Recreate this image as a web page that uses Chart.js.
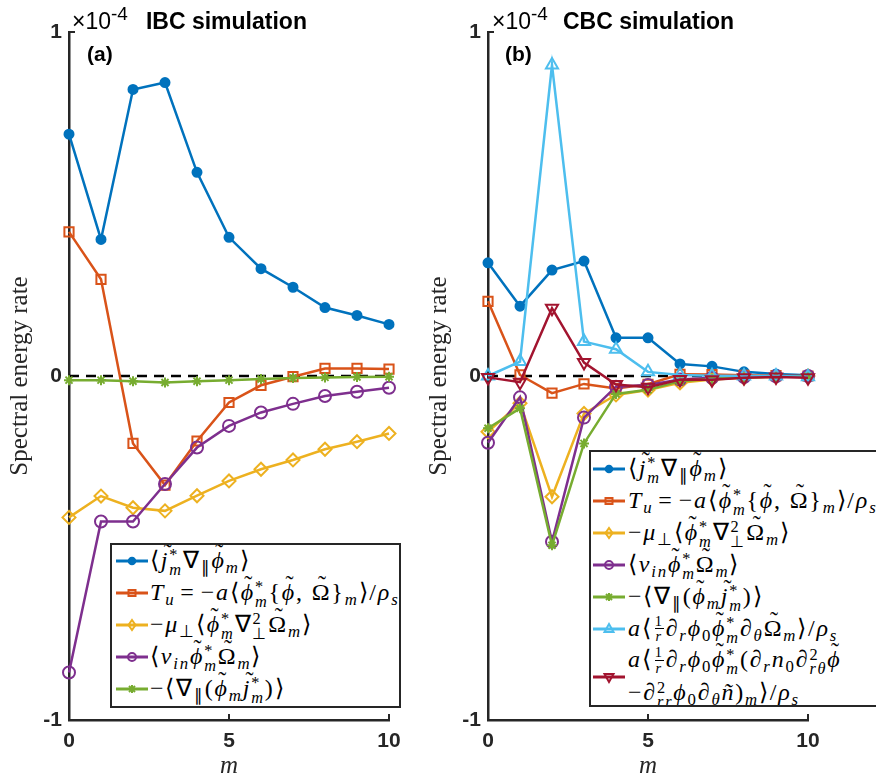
<!DOCTYPE html>
<html><head><meta charset="utf-8">
<script src="https://cdn.jsdelivr.net/npm/chart.js@4"></script>
<style>
html,body{margin:0;padding:0;background:#fff;width:876px;height:780px;overflow:hidden;position:relative}
canvas{position:absolute;top:0}
.hdr{position:absolute;font-family:"Liberation Sans",Arial,sans-serif;color:#000;white-space:nowrap;line-height:1}
.hdr .x{font-size:23px;font-weight:normal}
.hdr .x sup{font-size:19px;vertical-align:9px}
.hdr .t{font-size:23px;font-weight:bold;margin-left:18px}
.pl{position:absolute;font-family:"Liberation Sans",Arial,sans-serif;font-weight:bold;font-size:21px;line-height:1;color:#000}
.lg{position:absolute;background:#fff;border:2.5px solid #262626;box-sizing:border-box;font-family:"Liberation Serif",serif;font-size:24px;color:#000;overflow:hidden}
.row{display:flex;align-items:center;height:32px;white-space:nowrap}
.row svg{flex:none}
.row .txt{line-height:30px;letter-spacing:1.8px}
sub{font-size:0.7em;vertical-align:-0.3em;line-height:0}
.ss{display:inline-block;vertical-align:-0.45em;line-height:0.9;font-size:0.68em;text-align:left}
.ss>span{display:block}
.fr{display:inline-block;vertical-align:-0.4em;line-height:1;font-size:0.6em;text-align:center;margin:0 2px}
.fr>span{display:block}
.fr>span:first-child{border-bottom:1px solid #000}
.tl{position:relative;display:inline-block;line-height:1}
.tl::after{content:"\02DC";position:absolute;left:0.12em;right:0;text-align:center;top:-0.32em;font-style:normal}
.op{margin:0 5px}
</style></head><body>
<canvas id="ca" width="420" height="780" style="left:0"></canvas>
<canvas id="cb" width="456" height="780" style="left:420px"></canvas>
<div class="hdr" style="left:72px;top:4px"><span class="x">×10<sup>-4</sup></span><span class="t">IBC simulation</span></div>
<div class="hdr" style="left:492px;top:4px"><span class="x">×10<sup>-4</sup></span><span class="t" style="margin-left:15px">CBC simulation</span></div>
<div class="pl" style="left:87px;top:43px">(a)</div>
<div class="pl" style="left:505px;top:43px">(b)</div>
<div class="lg" id="lga" style="left:110px;top:543px;width:291px;height:165px;padding-top:0"></div>
<div class="lg" id="lgb" style="left:589px;top:450px;width:300px;height:257px;padding-top:1px"></div>
<script>
// ---------- data (values in units of 1e-4) ----------
const mVals = [0,1,2,3,4,5,6,7,8,9,10];
const xTicks = [0,5,10];
const yTicks = [-1,0,1];

// IBC simulation (a)
const jPhiA = [0.703,0.397,0.833,0.853,0.592,0.403,0.312,0.258,0.199,0.176,0.150];
const TuA   = [0.419,0.281,-0.196,-0.317,-0.189,-0.077,-0.027,-0.002,0.022,0.022,0.020];
const muA   = [-0.411,-0.349,-0.383,-0.392,-0.348,-0.305,-0.271,-0.244,-0.213,-0.191,-0.167];
const nuA   = [-0.862,-0.423,-0.423,-0.314,-0.208,-0.145,-0.106,-0.081,-0.058,-0.046,-0.034];
const divA  = [-0.012,-0.012,-0.015,-0.019,-0.015,-0.012,-0.009,-0.006,-0.004,-0.003,-0.002];

// CBC simulation (b)
const jPhiB  = [0.329,0.203,0.308,0.334,0.111,0.111,0.035,0.028,0.012,0.006,0.002];
const TuB    = [0.217,0.003,-0.050,-0.023,-0.036,-0.024,0.005,0.004,0.002,0.001,0.000];
const muB    = [-0.162,-0.079,-0.351,-0.109,-0.055,-0.041,-0.020,-0.010,-0.005,-0.002,0.000];
const nuB    = [-0.194,-0.062,-0.482,-0.121,-0.031,-0.026,-0.010,-0.005,-0.003,-0.001,0.000];
const divB   = [-0.152,-0.094,-0.492,-0.196,-0.052,-0.040,-0.015,-0.008,-0.004,-0.002,0.000];
const advB   = [0.000,0.042,0.904,0.100,0.078,0.012,0.003,0.001,0.000,0.000,-0.002];
const shearB = [-0.004,-0.018,0.197,0.039,-0.025,-0.033,-0.010,-0.011,-0.005,-0.003,-0.005];

// ---------- labels ----------
const ss = (a,b)=>`<span class="ss"><span>${a}</span><span>${b}</span></span>`;
const fr = (a,b)=>`<span class="fr"><span>${a}</span><span>${b}</span></span>`;
const tl = (c,it=true)=>`<span class="tl">${it?'<i>'+c+'</i>':c}</span>`;
const M = '<i>m</i>';
const PH = tl('ϕ'), J = tl('j'), OM = tl('Ω',false);
const labels = [
  `⟨${J}${ss('*',M)}∇<sub>∥</sub>${PH}<sub>${M}</sub>⟩`,
  `<i>T<sub>u</sub></i><span class="op">=</span>−<i>a</i>⟨${PH}${ss('*',M)}{${PH}, ${OM}}<sub>${M}</sub>⟩/<i>ρ<sub>s</sub></i>`,
  `−<i>μ</i><sub>⊥</sub>⟨${PH}${ss('*',M)}∇${ss('2','⊥')}${OM}<sub>${M}</sub>⟩`,
  `⟨<i>ν<sub>in</sub></i>${PH}${ss('*',M)}${OM}<sub>${M}</sub>⟩`,
  `−⟨∇<sub>∥</sub>(${PH}<sub>${M}</sub>${J}${ss('*',M)})⟩`,
  `<i>a</i>⟨${fr('1','<i>r</i>')}∂<sub><i>r</i></sub><i>ϕ</i><sub>0</sub>${PH}${ss('*',M)}∂<sub><i>θ</i></sub>${OM}<sub>${M}</sub>⟩/<i>ρ<sub>s</sub></i>`,
  `<i>a</i>⟨${fr('1','<i>r</i>')}∂<sub><i>r</i></sub><i>ϕ</i><sub>0</sub>${PH}${ss('*',M)}(∂<sub><i>r</i></sub><i>n</i><sub>0</sub>∂${ss('2','<i>rθ</i>')}${PH}<br>−∂${ss('2','<i>rr</i>')}<i>ϕ</i><sub>0</sub>∂<sub><i>θ</i></sub><i>ñ</i>)<sub>${M}</sub>⟩/<i>ρ<sub>s</sub></i>`
];
const colors = ['#0072BD','#D95319','#EDB120','#7E2F8E','#77AC30','#4DBEEE','#A2142F'];
const pstyles = ['circle','rect','rectRot','circle','star','triangle','triangle'];
const prot = [0,0,0,0,0,0,180];
const prad = [4.5,6.5,6.5,6,5,7,7];
const pfill = [true,false,false,false,false,false,false];

function mkDs(vals,i){
  return {
    data: mVals.map((m,k)=>({x:m,y:vals[k]})),
    borderColor: colors[i], backgroundColor: pfill[i]?colors[i]:'rgba(0,0,0,0)',
    pointBorderColor: colors[i], pointBackgroundColor: pfill[i]?colors[i]:'rgba(0,0,0,0)',
    borderWidth: 2.5, pointBorderWidth: 2, pointRadius: prad[i], pointStyle: pstyles[i],
    pointRotation: prot[i], tension: 0, clip: false, order: 20 - i
  };
}
function zeroDs(){
  return {data:[{x:xTicks[0],y:0},{x:xTicks[xTicks.length-1],y:0}], borderColor:'#000', borderWidth:2.5,
    borderDash:[10,7], pointRadius:0, clip:false, order:100};
}
const inTicks = {id:'inTicks', beforeDatasetsDraw(chart){
  const {ctx, chartArea:a, scales:{x,y}} = chart;
  ctx.save(); ctx.strokeStyle='#262626'; ctx.lineWidth=2; ctx.beginPath();
  xTicks.slice(1).forEach(v=>{const px=x.getPixelForValue(v); ctx.moveTo(px,a.bottom); ctx.lineTo(px,a.bottom-6);});
  yTicks.slice(1).forEach(v=>{const py=y.getPixelForValue(v); ctx.moveTo(a.left,py); ctx.lineTo(a.left+6,py);});
  ctx.stroke(); ctx.restore();
}};
const tickFont = {family:'"Liberation Sans", Arial, sans-serif', size:21, weight:'bold'};
function mkChart(id, series, plotLeft, rightPad, titlePad){
  return new Chart(document.getElementById(id), {
    type:'line',
    data:{datasets:[zeroDs(), ...series.map((s,i)=>mkDs(s,i))]},
    plugins:[inTicks],
    options:{
      responsive:false, animation:false, events:[],
      layout:{padding:{left:0,right:rightPad,top:32,bottom:0}},
      plugins:{legend:{display:false}, tooltip:{enabled:false}},
      scales:{
        x:{type:'linear', min:xTicks[0], max:xTicks[xTicks.length-1],
           ticks:{stepSize:5, font:tickFont, color:'#262626', padding:9, maxRotation:0},
           grid:{display:false, drawTicks:false},
           border:{display:true, color:'#262626', width:2.5},
           title:{display:true, text:'m', color:'#262626',
             font:{family:'"Liberation Serif", serif', style:'italic', size:25, lineHeight:1}, padding:{top:0,bottom:1}},
           afterFit:s=>{s.height=60;}},
        y:{type:'linear', min:yTicks[0], max:yTicks[yTicks.length-1],
           ticks:{stepSize:1, font:tickFont, color:'#262626', padding:7},
           grid:{display:false, drawTicks:false},
           border:{display:true, color:'#262626', width:2.5},
           title:{display:true, text:'Spectral energy rate', color:'#262626',
             font:{family:'"Liberation Serif", serif', size:25, lineHeight:1.2}, padding:{top:titlePad,bottom:0}},
           afterFit:s=>{s.width=plotLeft;}}
      }
    }
  });
}
mkChart('ca', [jPhiA,TuA,muA,nuA,divA], 69, 31, 5);
mkChart('cb', [jPhiB,TuB,muB,nuB,divB,advB,shearB], 68, 68, 4);

// ---------- legends ----------
function markerSVG(i){
  const c = colors[i], cx=16, cy=16;
  let mk='';
  switch(i){
    case 0: mk=`<circle cx="${cx}" cy="${cy}" r="3.5" fill="${c}" stroke="${c}" stroke-width="1.5"/>`; break;
    case 1: mk=`<rect x="${cx-3.5}" y="${cy-3}" width="7" height="6" fill="none" stroke="${c}" stroke-width="2"/>`; break;
    case 2: mk=`<polygon points="${cx},${cy-5} ${cx+3.5},${cy} ${cx},${cy+5} ${cx-3.5},${cy}" fill="none" stroke="${c}" stroke-width="2"/>`; break;
    case 3: mk=`<circle cx="${cx}" cy="${cy}" r="4" fill="none" stroke="${c}" stroke-width="2"/>`; break;
    case 4: mk=`<path d="M${cx-3},${cy-3}L${cx+3},${cy+3}M${cx-3},${cy+3}L${cx+3},${cy-3}M${cx-4},${cy}L${cx+4},${cy}M${cx},${cy-4}L${cx},${cy+4}" stroke="${c}" stroke-width="2"/>`; break;
    case 5: mk=`<polygon points="${cx},${cy-5} ${cx+4.5},${cy+3} ${cx-4.5},${cy+3}" fill="none" stroke="${c}" stroke-width="2"/>`; break;
    case 6: mk=`<polygon points="${cx},${cy+5} ${cx+4.5},${cy-3} ${cx-4.5},${cy-3}" fill="none" stroke="${c}" stroke-width="2"/>`; break;
  }
  return `<svg width="32" height="32" viewBox="0 0 32 32"><line x1="0" y1="16" x2="32" y2="16" stroke="${c}" stroke-width="3"/>${mk}</svg>`;
}
function buildLegend(id, n, ml, mr){
  const el = document.getElementById(id);
  let h='';
  for(let i=0;i<n;i++){
    const tall = labels[i].includes('<br>');
    h += `<div class="row" style="height:${tall?64:32}px"><span style="margin-left:${ml}px;margin-right:${mr}px;display:flex">${markerSVG(i)}</span><span class="txt">${labels[i]}</span></div>`;
  }
  el.innerHTML = h;
}
buildLegend('lga', 5, 3.5, 2.5);
buildLegend('lgb', 7, 1.5, 3.5);
</script>
</body></html>
